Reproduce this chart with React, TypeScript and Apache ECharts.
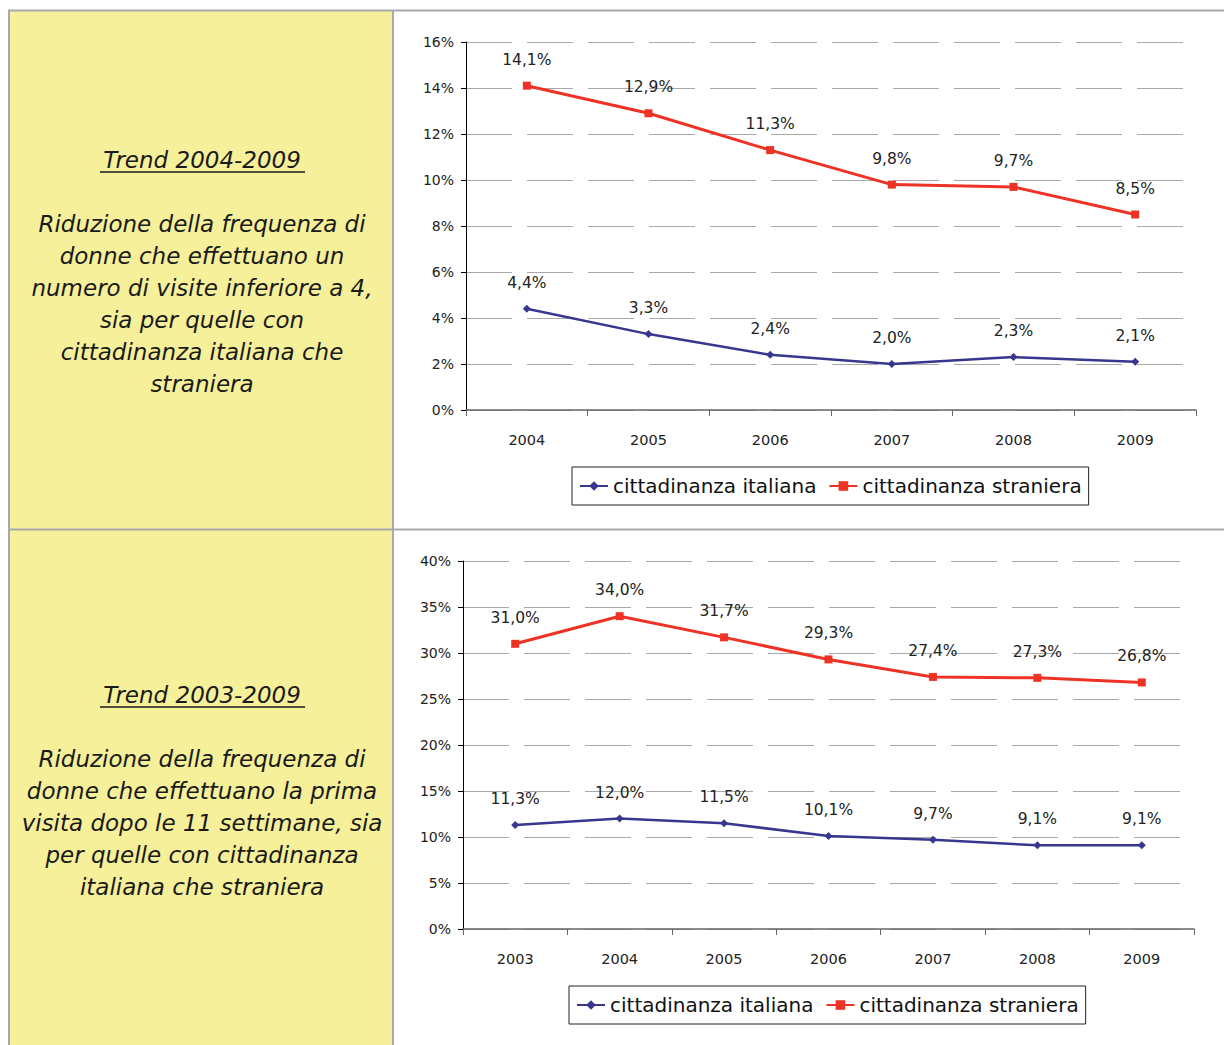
import React, { useEffect, useRef } from "react";
import * as echarts from "echarts";

const cats1 = ["2004", "2005", "2006", "2007", "2008", "2009"];
const ital1 = [4.4, 3.3, 2.4, 2.0, 2.3, 2.1];
const stran1 = [14.1, 12.9, 11.3, 9.8, 9.7, 8.5];

const cats2 = ["2003", "2004", "2005", "2006", "2007", "2008", "2009"];
const ital2 = [11.3, 12.0, 11.5, 10.1, 9.7, 9.1, 9.1];
const stran2 = [31.0, 34.0, 31.7, 29.3, 27.4, 27.3, 26.8];

const seriesNames = ["cittadinanza italiana", "cittadinanza straniera"];

const title1 = "Trend 2004-2009";
const body1 =
  "Riduzione della frequenza di\ndonne che effettuano un\nnumero di visite inferiore a 4,\nsia per quelle con\ncittadinanza italiana che\nstraniera";
const title2 = "Trend 2003-2009";
const body2 =
  "Riduzione della frequenza di\ndonne che effettuano la prima\nvisita dopo le 11 settimane, sia\nper quelle con cittadinanza\nitaliana che straniera";

const BLUE = "#37378f";
const RED = "#ee3326";
const FONT = "DejaVu Sans";

const fmt = (v: number) => v.toFixed(1).replace(".", ",") + "%";

export default function App() {
  const ref = useRef<HTMLDivElement>(null);
  useEffect(() => {
    if (!ref.current) return;
    const chart = echarts.init(ref.current, undefined, { renderer: "svg" });

    const yAxisBase = (max: number, interval: number) => ({
      type: "value" as const,
      min: 0,
      max,
      interval,
      axisLine: { show: true, lineStyle: { color: "#000", width: 1 } },
      axisTick: { show: true, length: 5, lineStyle: { color: "#000" } },
      axisLabel: {
        formatter: "{value}%",
        fontFamily: FONT,
        fontSize: 14,
        color: "#222",
        margin: 12,
      },
      splitLine: {
        show: true,
        lineStyle: { color: "#a8a8a8", width: 1, type: [46, 15] },
      },
    });
    const xAxisBase = (data: string[]) => ({
      type: "category" as const,
      data,
      boundaryGap: true,
      axisLine: { show: true, lineStyle: { color: "#666", width: 1.5 } },
      axisTick: { show: true, length: 6, lineStyle: { color: "#666" } },
      axisLabel: {
        fontFamily: FONT,
        fontSize: 14.5,
        color: "#222",
        margin: 22,
      },
    });
    const label = {
      show: true,
      position: "top" as const,
      distance: 14,
      fontFamily: FONT,
      fontSize: 15.5,
      color: "#222",
      formatter: (p: any) => fmt(p.value),
    };
    const mkSeries = (idx: number, ital: number[], stran: number[]) => [
      {
        name: seriesNames[0],
        type: "line" as const,
        xAxisIndex: idx,
        yAxisIndex: idx,
        data: ital,
        symbol: "diamond",
        symbolSize: 8,
        lineStyle: { color: BLUE, width: 2.5 },
        itemStyle: { color: BLUE },
        label,
      },
      {
        name: seriesNames[1],
        type: "line" as const,
        xAxisIndex: idx,
        yAxisIndex: idx,
        data: stran,
        symbol: "rect",
        symbolSize: 8,
        lineStyle: { color: RED, width: 3 },
        itemStyle: { color: RED },
        label,
      },
    ];
    const legendBase = (left: number, top: number) => ({
      data: seriesNames,
      left,
      top,
      orient: "horizontal" as const,
      borderColor: "#222",
      borderWidth: 1,
      padding: [9, 7, 9, 7],
      itemGap: 12,
      itemWidth: 28,
      itemHeight: 12,
      textStyle: { fontFamily: FONT, fontSize: 20, color: "#111" },
      selectedMode: false,
    });

    const textStyleBody = {
      fontFamily: FONT,
      fontStyle: "italic",
      fontSize: 23,
      fill: "#1a1a1a",
      align: "center",
      verticalAlign: "middle",
      lineHeight: 32,
    };

    chart.setOption({
      animation: false,
      backgroundColor: "#ffffff",
      grid: [
        { left: 466, top: 42, width: 730, height: 368 },
        { left: 463, top: 561, width: 731, height: 368 },
      ],
      xAxis: [
        { ...xAxisBase(cats1), gridIndex: 0 },
        { ...xAxisBase(cats2), gridIndex: 1 },
      ],
      yAxis: [
        { ...yAxisBase(16, 2), gridIndex: 0 },
        { ...yAxisBase(40, 5), gridIndex: 1 },
      ],
      legend: [legendBase(572, 467), legendBase(569, 986)],
      series: [...mkSeries(0, ital1, stran1), ...mkSeries(1, ital2, stran2)],
      graphic: [
        {
          type: "rect",
          z: -10,
          shape: { x: 9, y: 11, width: 384, height: 1040 },
          style: { fill: "#f5f099" },
          silent: true,
        },
        {
          type: "line",
          shape: { x1: 8, y1: 10.5, x2: 1224, y2: 10.5 },
          style: { stroke: "#a9a9ad", lineWidth: 2 },
        },
        {
          type: "line",
          shape: { x1: 9, y1: 10, x2: 9, y2: 1045 },
          style: { stroke: "#a9a9ad", lineWidth: 2 },
        },
        {
          type: "line",
          shape: { x1: 393, y1: 10, x2: 393, y2: 1045 },
          style: { stroke: "#a9a9ad", lineWidth: 2 },
        },
        {
          type: "line",
          shape: { x1: 8, y1: 529.5, x2: 1224, y2: 529.5 },
          style: { stroke: "#a9a9ad", lineWidth: 2 },
        },
        {
          type: "text",
          x: 202,
          y: 160,
          style: { ...textStyleBody, text: title1 },
        },
        {
          type: "line",
          shape: { x1: 100, y1: 172, x2: 305, y2: 172 },
          style: { stroke: "#1a1a1a", lineWidth: 1.5 },
        },
        {
          type: "text",
          x: 202,
          y: 304,
          style: { ...textStyleBody, text: body1 },
        },
        {
          type: "text",
          x: 202,
          y: 695,
          style: { ...textStyleBody, text: title2 },
        },
        {
          type: "line",
          shape: { x1: 100, y1: 707, x2: 305, y2: 707 },
          style: { stroke: "#1a1a1a", lineWidth: 1.5 },
        },
        {
          type: "text",
          x: 202,
          y: 823,
          style: { ...textStyleBody, text: body2 },
        },
      ],
    });
    return () => chart.dispose();
  }, []);
  return (
    <div
      ref={ref}
      style={{ position: "fixed", left: 0, top: 0, width: 1224, height: 1045 }}
    />
  );
}
